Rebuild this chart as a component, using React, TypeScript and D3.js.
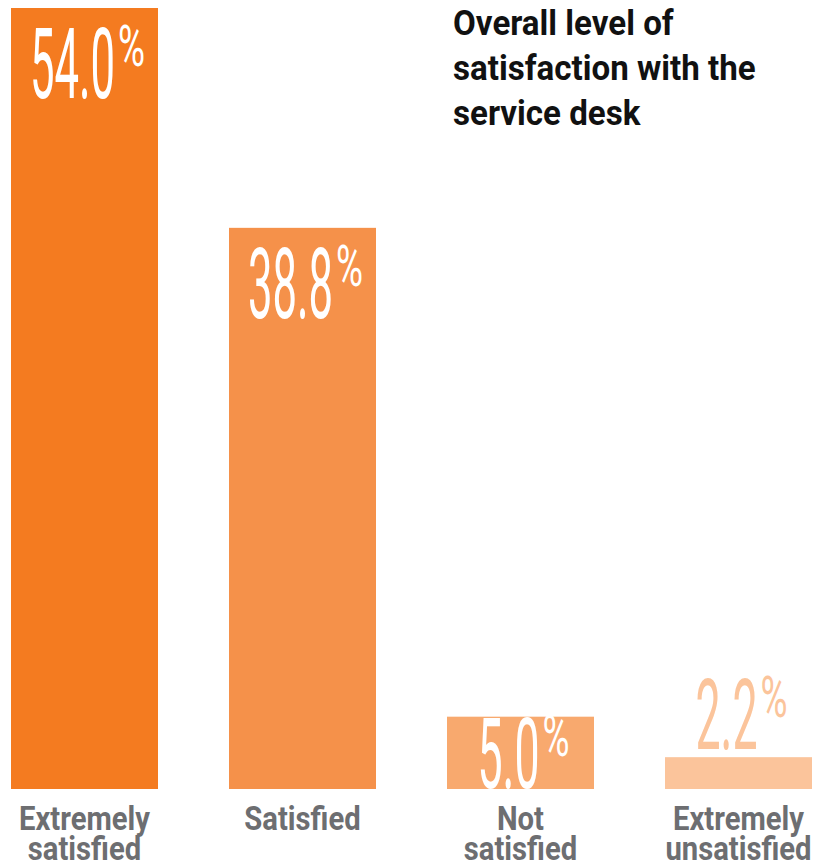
import React, { useEffect, useRef } from "react";
import * as d3 from "d3";

const categories = [["Extremely", "satisfied"], ["Satisfied"], ["Not", "satisfied"], ["Extremely", "unsatisfied"]];
const values = [54.0, 38.8, 5.0, 2.2];
const colors = ["#f47b20", "#f5914a", "#f8a96e", "#fbc49b"];
const titleLines = ["Overall level of", "satisfaction with the", "service desk"];

export default function App() {
  const ref = useRef<SVGSVGElement>(null);
  useEffect(() => {
    const svg = d3.select(ref.current);
    svg.selectAll("*").remove();
    const x = d3.scaleBand<number>().domain(d3.range(values.length)).range([11, 812]).paddingInner(0.3257).paddingOuter(0);
    const y = d3.scaleLinear().domain([0, 54]).range([789, 8]);
    const font = "Roboto, 'Liberation Sans', sans-serif";

    // title
    const t = svg.append("g");
    titleLines.forEach((line, i) => {
      t.append("text")
        .attr("transform", `translate(453, ${35 + i * 45}) scale(0.92,1)`)
        .attr("font-family", font).attr("font-weight", 700).attr("font-size", 36)
        .attr("fill", "#111").text(line);
    });

    values.forEach((v, i) => {
      const bx = x(i)!;
      const bw = x.bandwidth();
      const top = y(v);
      const h = y(0) - top;
      svg.append("rect").attr("x", bx).attr("y", top).attr("width", bw).attr("height", h).attr("fill", colors[i]);
      const label = v.toFixed(1);
      const digitsW = label.replace(".", "").length * 23 + 16;
      const pctW = 27;
      const totalW = digitsW + 3 + pctW;
      const cx = bx + bw / 2 + 3;
      const inside = h >= 72;
      const baseline = inside ? Math.min(top + 90, y(0) - 1) : top - 8;
      const fill = inside ? "#fff" : colors[i];
      const left = cx - totalW / 2;
      svg.append("text").attr("x", left).attr("y", baseline)
        .attr("font-family", font).attr("font-weight", 400).attr("font-size", 98)
        .attr("textLength", digitsW).attr("lengthAdjust", "spacingAndGlyphs")
        .attr("fill", fill).text(label);
      svg.append("text").attr("x", left + digitsW + 3).attr("y", baseline - 32)
        .attr("font-family", font).attr("font-weight", 400).attr("font-size", 58)
        .attr("textLength", pctW).attr("lengthAdjust", "spacingAndGlyphs")
        .attr("fill", fill).text("%");
      categories[i].forEach((line, j) => {
        svg.append("text")
          .attr("transform", `translate(${bx + bw / 2}, ${830 + j * 30}) scale(0.86,1)`)
          .attr("text-anchor", "middle")
          .attr("font-family", font).attr("font-weight", 700).attr("font-size", 34)
          .attr("fill", "#6d6e71").text(line);
      });
    });
  }, []);
  return (
    <svg ref={ref} width={820} height={865} style={{ position: "absolute", left: 0, top: 0 }} />
  );
}
